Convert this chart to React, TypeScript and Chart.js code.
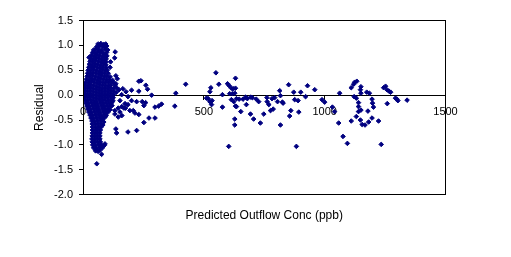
import { useEffect, useRef } from 'react';
import { Chart, registerables } from 'chart.js';

Chart.register(...registerables);

const FONT_FAMILY = '"Liberation Sans", Arial, sans-serif';
const X_TITLE = 'Predicted Outflow Conc (ppb)';
const Y_TITLE = 'Residual';
const X_TICKS = [0, 500, 1000, 1500];
const Y_TICKS = [-2.0, -1.5, -1.0, -0.5, 0.0, 0.5, 1.0, 1.5];
const MARKER_COLOR = '#000080';

// Dense cluster of low predicted concentrations: [predicted, residual]
const clusterPoints: [number, number][] = [
  [62, 1.03], [74, 1.04], [86, 1.02], [94, 1.03],
  [56, 0.97], [68, 0.99], [80, 0.98], [92, 0.97], [98, 0.99],
  [44, 0.91], [55, 0.93], [66, 0.92], [78, 0.90], [90, 0.93], [102, 0.91],
  [40, 0.86], [51, 0.85], [62, 0.87], [74, 0.86], [86, 0.84], [98, 0.86],
  [34, 0.80], [45, 0.79], [57, 0.81], [69, 0.80], [81, 0.78], [93, 0.81], [99, 0.79],
  [25, 0.76],
  [31, 0.74], [42, 0.73], [54, 0.75], [66, 0.74], [78, 0.72], [90, 0.75], [96, 0.73],
  [29, 0.68], [40, 0.67], [52, 0.69], [64, 0.68], [76, 0.66], [88, 0.69], [95, 0.67],
  [26, 0.62], [37, 0.61], [49, 0.63], [61, 0.62], [73, 0.60], [85, 0.63], [95, 0.61],
  [24, 0.56], [35, 0.55], [47, 0.57], [59, 0.56], [71, 0.54], [83, 0.57], [96, 0.55],
  [21, 0.50], [32, 0.49], [44, 0.51], [56, 0.50], [68, 0.48], [80, 0.51], [92, 0.49], [100, 0.50],
  [19, 0.44], [30, 0.43], [42, 0.45], [54, 0.44], [66, 0.42], [78, 0.45], [90, 0.43], [104, 0.44],
  [17, 0.38], [28, 0.37], [40, 0.39], [52, 0.38], [64, 0.36], [76, 0.39], [88, 0.37], [100, 0.38], [112, 0.37],
  [14, 0.32], [25, 0.31], [37, 0.33], [49, 0.32], [61, 0.30], [73, 0.33], [85, 0.31], [97, 0.32], [109, 0.31], [122, 0.30],
  [11, 0.26], [22, 0.25], [34, 0.27], [46, 0.26], [58, 0.24], [70, 0.27], [82, 0.25], [94, 0.26], [106, 0.25], [118, 0.27], [128, 0.25],
  [9, 0.20], [20, 0.19], [32, 0.21], [44, 0.20], [56, 0.18], [68, 0.21], [80, 0.19], [92, 0.20], [104, 0.19], [116, 0.21],
  [8, 0.14], [19, 0.13], [31, 0.15], [43, 0.14], [55, 0.12], [67, 0.15], [79, 0.13], [91, 0.14], [103, 0.13], [115, 0.15], [127, 0.13], [141, 0.14],
  [8, 0.08], [19, 0.07], [31, 0.09], [43, 0.08], [55, 0.06], [67, 0.09], [79, 0.07], [91, 0.08], [103, 0.07], [115, 0.09], [126, 0.07], [138, 0.06],
  [8, 0.02], [19, 0.01], [31, 0.03], [43, 0.02], [55, 0.00], [67, 0.03], [79, 0.01], [91, 0.02], [103, 0.01], [115, 0.03], [127, 0.01],
  [8, -0.04], [19, -0.05], [31, -0.03], [43, -0.04], [55, -0.06], [67, -0.03], [79, -0.05], [91, -0.04], [103, -0.05], [115, -0.03], [125, -0.05],
  [9, -0.10], [20, -0.11], [32, -0.09], [44, -0.10], [56, -0.12], [68, -0.09], [80, -0.11], [92, -0.10], [104, -0.11], [116, -0.09], [124, -0.11],
  [12, -0.16], [24, -0.17], [36, -0.15], [48, -0.16], [60, -0.18], [72, -0.15], [84, -0.17], [96, -0.16], [108, -0.17], [119, -0.15],
  [16, -0.22], [28, -0.23], [40, -0.21], [52, -0.22], [64, -0.24], [76, -0.21], [88, -0.23], [100, -0.22], [112, -0.23], [120, -0.21],
  [20, -0.28], [32, -0.29], [44, -0.27], [56, -0.28], [68, -0.30], [80, -0.27], [92, -0.29], [104, -0.28], [112, -0.29],
  [24, -0.34], [36, -0.35], [48, -0.33], [60, -0.34], [72, -0.36], [84, -0.33], [96, -0.35], [104, -0.34],
  [29, -0.40], [41, -0.41], [53, -0.39], [65, -0.40], [77, -0.42], [89, -0.39], [96, -0.41],
  [33, -0.46], [45, -0.47], [57, -0.45], [69, -0.46], [81, -0.48], [90, -0.45],
  [37, -0.52], [49, -0.53], [61, -0.51], [73, -0.52], [86, -0.54],
  [38, -0.58], [50, -0.59], [62, -0.57], [74, -0.58], [82, -0.60],
  [39, -0.64], [51, -0.65], [63, -0.63], [75, -0.64],
  [39, -0.70], [50, -0.71], [61, -0.69], [72, -0.70],
  [39, -0.76], [50, -0.77], [61, -0.75], [70, -0.76],
  [38, -0.82], [49, -0.83], [60, -0.81], [70, -0.82],
  [37, -0.88], [48, -0.89], [59, -0.87], [70, -0.88],
  [38, -0.94], [49, -0.95], [60, -0.93], [72, -0.94],
  [40, -1.00], [52, -1.01], [64, -0.99], [76, -1.00], [88, -1.01],
  [44, -1.06], [56, -1.07], [68, -1.05], [80, -1.06],
  [52, -1.12], [62, -1.13], [70, -1.11],
  [77, -1.19], [57, -1.38],
];

// Scattered points near the cluster: [predicted, residual]
const nearPoints: [number, number][] = [
  [133, 0.87], [131, 0.75], [114, 0.67], [112, 0.56], [136, 0.39], [142, 0.33],
  [132, 0.19], [136, 0.23], [149, 0.11], [160, 0.01], [165, 0.13], [178, 0.07],
  [186, -0.03], [153, -0.11], [174, -0.17], [186, -0.19], [161, -0.23], [146, -0.26],
  [169, -0.26], [176, -0.26], [132, -0.31], [153, -0.34], [194, -0.31], [132, -0.38],
  [146, -0.44], [161, -0.41], [136, -0.68], [139, -0.76], [186, -0.74], [91, -0.98],
  [201, 0.10], [231, 0.28], [240, 0.29], [260, 0.20], [267, 0.12], [231, 0.08],
  [284, 0.00], [201, -0.11], [222, -0.13], [245, -0.13], [259, -0.15], [252, -0.21],
  [298, -0.24], [313, -0.22], [325, -0.18], [208, -0.31], [215, -0.36], [231, -0.39],
  [273, -0.46], [298, -0.46], [252, -0.55], [222, -0.71], [380, -0.22], [384, 0.04],
  [425, 0.22],
];

// Points at high predicted concentrations: [predicted, residual]
const tailPoints: [number, number][] = [
  [550, 0.45], [562, 0.22], [529, 0.15], [525, 0.07], [518, -0.07], [525, -0.13],
  [532, -0.19], [534, -0.11], [511, -0.06], [577, -0.24], [577, 0.01], [598, 0.23],
  [605, 0.19], [614, 0.14], [631, 0.34], [631, 0.14], [621, 0.13], [607, 0.03],
  [618, 0.03], [628, 0.04], [614, -0.09], [624, -0.13], [635, -0.07], [646, -0.08],
  [631, -0.22], [635, -0.23], [653, -0.33], [628, -0.48], [628, -0.60], [603, -1.03],
  [662, -0.08], [673, -0.04], [680, -0.07], [694, -0.04], [701, -0.05], [676, -0.19],
  [693, -0.38], [706, -0.48], [717, -0.08], [727, -0.13], [734, -0.56], [748, -0.38],
  [761, -0.05], [762, -0.13], [769, -0.19], [776, -0.31], [787, -0.28], [782, -0.07],
  [793, -0.05], [805, -0.13], [814, 0.09], [817, -0.01], [825, -0.14], [828, -0.16],
  [817, -0.60], [851, 0.21], [855, -0.42], [860, -0.31], [872, 0.06], [876, -0.09],
  [890, -0.11], [893, -0.34], [883, -1.03], [901, 0.06], [921, -0.03], [929, 0.19],
  [959, 0.11], [989, -0.09], [1000, -0.14], [1032, -0.24], [1041, -0.33], [1058, -0.56],
  [1062, 0.04], [1076, -0.83], [1094, -0.97], [1110, 0.15], [1110, -0.52], [1120, 0.22],
  [1124, 0.26], [1133, 0.28], [1122, -0.03], [1131, -0.06], [1131, -0.43], [1140, -0.15],
  [1140, -0.23], [1140, -0.33], [1150, 0.17], [1148, 0.11], [1150, 0.04], [1150, -0.30],
  [1148, -0.50], [1155, -0.59], [1167, -0.60], [1174, 0.06], [1185, 0.04], [1179, -0.32],
  [1182, -0.54], [1196, -0.08], [1198, -0.16], [1202, -0.24], [1196, -0.46], [1223, -0.52],
  [1234, -0.99], [1244, 0.15], [1252, 0.18], [1258, 0.11], [1266, 0.08], [1273, 0.06],
  [1259, -0.17], [1293, -0.06], [1299, -0.08], [1303, -0.11], [1341, -0.10],
];

const plotBorder = {
  id: 'plotBorder',
  afterDatasetsDraw(chart: any) {
    const { ctx, chartArea } = chart;
    const l = Math.floor(chartArea.left) + 0.5;
    const t = Math.floor(chartArea.top) + 0.5;
    const r = Math.floor(chartArea.right) + 0.5;
    const b = Math.floor(chartArea.bottom) + 0.5;
    ctx.save();
    ctx.strokeStyle = '#000';
    ctx.lineWidth = 1;
    ctx.strokeRect(l, t, r - l, b - t);
    ctx.restore();
  },
};

export default function App() {
  const canvasRef = useRef<HTMLCanvasElement | null>(null);

  useEffect(() => {
    document.body.style.margin = '0';
    const canvas = canvasRef.current;
    if (!canvas) return;
    const allPoints = [...clusterPoints, ...nearPoints, ...tailPoints].map(([x, y]) => ({ x, y }));
    const tickFont = { family: FONT_FAMILY, size: 11 };
    const titleFont = { family: FONT_FAMILY, size: 12 };

    const chart = new Chart(canvas, {
      type: 'scatter',
      data: {
        datasets: [
          {
            label: 'Residual',
            data: allPoints,
            xAxisID: 'x',
            yAxisID: 'y',
            backgroundColor: MARKER_COLOR,
            borderColor: MARKER_COLOR,
            borderWidth: 1,
            pointStyle: 'rectRot',
            pointRadius: 2.3,
            pointHoverRadius: 2.3,
          },
        ],
      },
      options: {
        responsive: false,
        animation: false,
        events: [],
        layout: { padding: { top: 20.6, left: 0, right: 65.5, bottom: 0 } },
        plugins: {
          legend: { display: false },
          tooltip: { enabled: false },
        },
        scales: {
          x: {
            type: 'linear',
            axis: 'x',
            min: 0,
            max: 1500,
            position: { y: 0 },
            afterFit: (s: any) => {
              s.height = 0;
            },
            afterBuildTicks: (s: any) => {
              s.ticks = X_TICKS.map((v) => ({ value: v }));
            },
            ticks: {
              color: '#000',
              font: tickFont,
              padding: 6,
              maxRotation: 0,
              autoSkip: false,
              callback: (v: any) => String(v),
            },
            grid: { display: true, drawOnChartArea: false, drawTicks: true, tickLength: 4, color: '#000' },
            border: { display: true, color: '#000', width: 1 },
          },
          x2: {
            type: 'linear',
            axis: 'x',
            position: 'bottom',
            min: 0,
            max: 1500,
            afterFit: (s: any) => {
              s.height = 62.4;
            },
            ticks: { display: false },
            grid: { display: false, drawTicks: false },
            border: { display: false },
            title: {
              display: true,
              text: X_TITLE,
              color: '#000',
              font: titleFont,
              padding: { top: 0, bottom: 34 },
            },
          },
          y: {
            type: 'linear',
            position: 'left',
            min: -2,
            max: 1.5,
            afterFit: (s: any) => {
              s.width = 83;
            },
            afterBuildTicks: (s: any) => {
              s.ticks = Y_TICKS.map((v) => ({ value: v }));
            },
            ticks: {
              color: '#000',
              font: tickFont,
              padding: 6,
              callback: (v: any) => Number(v).toFixed(1),
            },
            grid: { display: true, drawOnChartArea: false, drawTicks: true, tickLength: 4, color: '#000' },
            border: { display: true, color: '#000', width: 1 },
            title: {
              display: true,
              text: Y_TITLE,
              color: '#000',
              font: titleFont,
              padding: { top: 32, bottom: 0 },
            },
          },
        },
      } as any,
      plugins: [plotBorder],
    });

    return () => {
      chart.destroy();
    };
  }, []);

  return (
    <div style={{ position: 'absolute', left: 0, top: 0, width: 511, height: 257, background: '#fff' }}>
      <canvas ref={canvasRef} width={511} height={257} style={{ display: 'block' }} />
    </div>
  );
}
